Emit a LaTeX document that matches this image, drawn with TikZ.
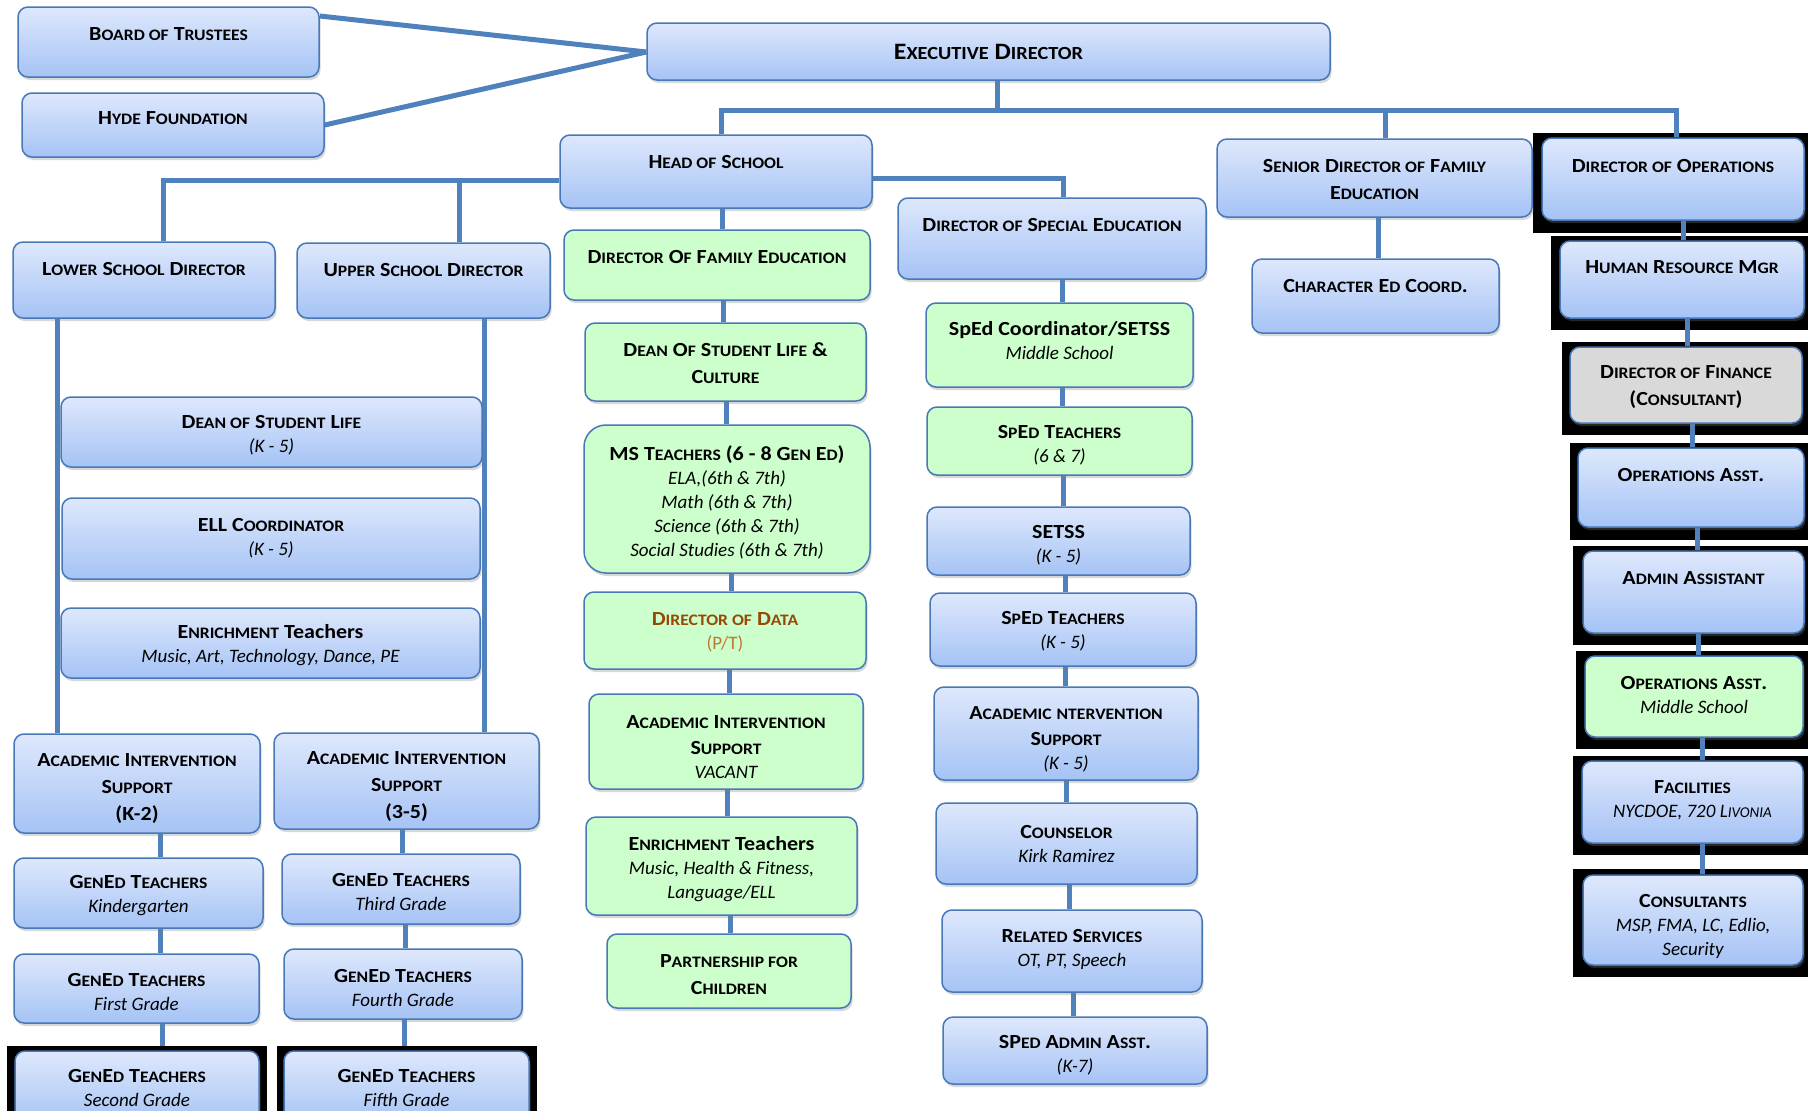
\documentclass[tikz,border=0pt]{standalone}
\usepackage{fontspec}
\setmainfont{Carlito}[BoldFeatures={FakeStretch=1.1}]
\usetikzlibrary{fit,shadows}
\definecolor{conn}{RGB}{79,129,189}
\definecolor{bord}{RGB}{72,120,184}
\definecolor{blueTop}{RGB}{222,232,252}
\definecolor{blueBot}{RGB}{165,195,245}
\definecolor{gfill}{RGB}{204,255,204}
\definecolor{grfill}{RGB}{217,217,217}
\definecolor{ddata}{RGB}{152,72,6}
\definecolor{ddatab}{RGB}{190,120,50}
\pgfdeclarelayer{blk}
\pgfdeclarelayer{lines}
\pgfsetlayers{blk,lines,main}
\newcommand\scx[1]{{\fontsize{16}{18}\selectfont #1}}
\newcommand\scy[1]{{\fontsize{18.5}{20}\selectfont #1}}
\newcommand\subt[1]{{\fontsize{19}{24}\selectfont\mdseries\itshape #1}}
\tikzset{
  bbase/.style={draw=bord, line width=1.5pt, rounded corners=10pt, inner sep=0pt,
    drop shadow={shadow xshift=1.5pt, shadow yshift=-3pt, opacity=0.3}},
  box/.style={bbase, top color=blueTop, bottom color=blueBot},
  gbox/.style={bbase, fill=gfill},
  grbox/.style={bbase, fill=grfill},
  blkbg/.style={fill=black, draw=none, inner sep=0pt},
  t/.style={align=center, inner sep=0pt, font=\fontsize{20}{24}\selectfont\bfseries, text=black},
  cn/.style={draw=conn, line width=5pt},
}
\begin{document}
\begin{tikzpicture}[x=1pt,y=-1pt]
\useasboundingbox (0,0) rectangle (1808,1111);
\begin{pgfonlayer}{blk}
\fill[white] (0,0) rectangle (1808,1111);
\node[blkbg, fit={(1533,133) (1808,233)}] (bgOps) {};
\node[blkbg, fit={(1551,236) (1808,330)}] (bgHRM) {};
\node[blkbg, fit={(1562,342) (1808,435)}] (bgFin) {};
\node[blkbg, fit={(1570,443) (1808,540)}] (bgOpsA) {};
\node[blkbg, fit={(1573,546) (1808,645)}] (bgAdm) {};
\node[blkbg, fit={(1576,651) (1808,749)}] (bgOMS) {};
\node[blkbg, fit={(1573,756) (1808,855)}] (bgFac) {};
\node[blkbg, fit={(1573,869) (1808,977)}] (bgCons) {};
\node[blkbg, fit={(7,1046) (267,1115)}] (bgG2) {};
\node[blkbg, fit={(277,1046) (537,1115)}] (bgG5) {};
\end{pgfonlayer}

% top
\node[box, fit={(18,7) (319,77)}] (BoT) {};
\node[t] (tBoT) at (168.5,34) {B\scx{OARD OF} T\scx{RUSTEES}};
\node[box, fit={(22,93) (324,157)}] (Hyde) {};
\node[t] (tHyde) at (173,118) {H\scx{YDE} F\scx{OUNDATION}};
\node[box, fit={(647,23) (1330,80)}] (Exec) {};
\node[t, font=\fontsize{23.5}{26}\selectfont\bfseries] (tExec) at (988.5,52) {E\scy{XECUTIVE} D\scy{IRECTOR}};
\node[box, fit={(560,135) (872,208)}] (HoS) {};
\node[t] (tHoS) at (716,162) {H\scx{EAD OF} S\scx{CHOOL}};
\node[box, fit={(898,198) (1206,279)}] (DSE) {};
\node[t] (tDSE) at (1052,225) {D\scx{IRECTOR OF} S\scx{PECIAL} E\scx{DUCATION}};
\node[box, fit={(1217,139) (1532,217)}] (SenDir) {};
\node[t] (tSenDir) at (1374.5,179.5) {S\scx{ENIOR} D\scx{IRECTOR OF} F\scx{AMILY}\\[3pt] E\scx{DUCATION}};
\node[box, fit={(1252,259) (1499,333)}] (CharEd) {};
\node[t] (tCharEd) at (1375.5,286) {C\scx{HARACTER} E\scx{D} C\scx{OORD}.};

% operations column
\node[box, fit={(1542,138) (1804,220)}] (DOps) {};
\node[t] (tDOps) at (1673,166) {D\scx{IRECTOR OF} O\scx{PERATIONS}};
\node[box, fit={(1560,241) (1804,318)}] (HRM) {};
\node[t] (tHRM) at (1682,267) {H\scx{UMAN} R\scx{ESOURCE} M\scx{GR}};
\node[grbox, fit={(1570,347) (1802,423)}] (DFin) {};
\node[t] (tDFin) at (1686,387.5) {D\scx{IRECTOR OF} F\scx{INANCE}\\[3pt] (C\scx{ONSULTANT})};
\node[box, fit={(1578,448) (1804,527)}] (OpsA) {};
\node[t] (tOpsA) at (1691,475) {O\scx{PERATIONS} A\scx{SST}.};
\node[box, fit={(1583,551) (1804,633)}] (Admin) {};
\node[t] (tAdmin) at (1693.5,578) {A\scx{DMIN} A\scx{SSISTANT}};
\node[gbox, fit={(1585,656) (1803,737)}] (OpsMS) {};
\node[t] (tOpsMS) at (1694,695) {O\scx{PERATIONS} A\scx{SST}.\\ \subt{Middle School}};
\node[box, fit={(1582,761) (1803,843)}] (Fac) {};
\node[t] (tFac) at (1692.5,800.5) {F\scx{ACILITIES}\\ \subt{NYCDOE, 720 L{\fontsize{15}{18}\selectfont IVONIA}}};
\node[box, fit={(1583,875) (1803,965)}] (Cons) {};
\node[t] (tCons) at (1693,926.5) {C\scx{ONSULTANTS}\\ \subt{MSP, FMA, LC, Edlio,}\\ \subt{Security}};

% lower / upper school
\node[box, fit={(13,242) (275,318)}] (LSD) {};
\node[t] (tLSD) at (144,269) {L\scx{OWER} S\scx{CHOOL} D\scx{IRECTOR}};
\node[box, fit={(297,243) (550,318)}] (USD) {};
\node[t] (tUSD) at (423.5,270) {U\scx{PPER} S\scx{CHOOL} D\scx{IRECTOR}};
\node[box, fit={(61,397) (482,467)}] (DSL) {};
\node[t] (tDSL) at (271.5,435.5) {D\scx{EAN OF} S\scx{TUDENT} L\scx{IFE}\\ \subt{(K - 5)}};
\node[box, fit={(62,498) (480,579)}] (ELL) {};
\node[t] (tELL) at (271,538) {ELL C\scx{OORDINATOR}\\ \subt{(K - 5)}};
\node[box, fit={(61,608) (480,678)}] (EnrL) {};
\node[t] (tEnrL) at (270.5,645.5) {E\scx{NRICHMENT} Teachers\\ \subt{Music, Art, Technology, Dance, PE}};
\node[box, fit={(14,734) (260,833)}] (AISK2) {};
\node[t] (tAISK2) at (137,788.5) {A\scx{CADEMIC} I\scx{NTERVENTION}\\[3pt] S\scx{UPPORT}\\[3pt] (K-2)};
\node[box, fit={(274,733) (539,829)}] (AIS35) {};
\node[t] (tAIS35) at (406.5,787) {A\scx{CADEMIC} I\scx{NTERVENTION}\\[3pt] S\scx{UPPORT}\\[3pt] (3-5)};
\node[box, fit={(14,858) (263,928)}] (GK) {};
\node[t] (tGK) at (138.5,896) {G\scx{EN}E\scx{D} T\scx{EACHERS}\\ \subt{Kindergarten}};
\node[box, fit={(282,854) (520,924)}] (G3) {};
\node[t] (tG3) at (401,892) {G\scx{EN}E\scx{D} T\scx{EACHERS}\\ \subt{Third Grade}};
\node[box, fit={(14,954) (259,1023)}] (G1) {};
\node[t] (tG1) at (136.5,992) {G\scx{EN}E\scx{D} T\scx{EACHERS}\\ \subt{First Grade}};
\node[box, fit={(284,949) (522,1019)}] (G4) {};
\node[t] (tG4) at (403,988) {G\scx{EN}E\scx{D} T\scx{EACHERS}\\ \subt{Fourth Grade}};
\node[box, fit={(15,1051) (259,1125)}] (G2) {};
\node[t] (tG2) at (137,1088) {G\scx{EN}E\scx{D} T\scx{EACHERS}\\ \subt{Second Grade}};
\node[box, fit={(284,1051) (529,1125)}] (G5) {};
\node[t] (tG5) at (406.5,1088) {G\scx{EN}E\scx{D} T\scx{EACHERS}\\ \subt{Fifth Grade}};

% middle (green) column
\node[gbox, fit={(564,230) (870,300)}] (DFE) {};
\node[t] (tDFE) at (717,257) {D\scx{IRECTOR} O\scx{F} F\scx{AMILY} E\scx{DUCATION}};
\node[gbox, fit={(585,323) (866,401)}] (DSLC) {};
\node[t] (tDSLC) at (725.5,363.5) {D\scx{EAN} O\scx{F} S\scx{TUDENT} L\scx{IFE} \&\\[3pt] C\scx{ULTURE}};
\node[gbox, rounded corners=22pt, fit={(584,425) (870,573)}] (MS) {};
\node[t] (tMS) at (727,502.5) {MS T\scx{EACHERS} (6 - 8 G\scx{EN} E\scx{D})\\ \subt{ELA,(6th \& 7th)}\\ \subt{Math (6th \& 7th)}\\ \subt{Science (6th \& 7th)}\\ \subt{Social Studies (6th \& 7th)}};
\node[gbox, fit={(584,592) (866,669)}] (DData) {};
\node[t] (tDData) at (725,632) {\textcolor{ddata}{D\scx{IRECTOR OF} D\scx{ATA}}\\ {\fontsize{19}{24}\selectfont\mdseries\color{ddatab}(P/T)}};
\node[gbox, fit={(589,694) (863,789)}] (AISV) {};
\node[t] (tAISV) at (726,747) {A\scx{CADEMIC} I\scx{NTERVENTION}\\[2pt] S\scx{UPPORT}\\ \subt{VACANT}};
\node[gbox, fit={(586,817) (857,915)}] (EnrM) {};
\node[t] (tEnrM) at (721.5,869) {E\scx{NRICHMENT} Teachers\\ \subt{Music, Health \& Fitness,}\\ \subt{Language/ELL}};
\node[gbox, fit={(607,934) (851,1008)}] (PfC) {};
\node[t] (tPfC) at (729,975) {P\scx{ARTNERSHIP FOR}\\[3pt] C\scx{HILDREN}};

% special education column
\node[gbox, fit={(926,303) (1193,387)}] (SpCo) {};
\node[t] (tSpCo) at (1059.5,340.5) {SpEd Coordinator/SETSS\\ \subt{Middle School}};
\node[gbox, fit={(927,407) (1192,475)}] (Sp67) {};
\node[t] (tSp67) at (1059.5,445.5) {S\scx{P}E\scx{D} T\scx{EACHERS}\\ \subt{(6 \& 7)}};
\node[box, fit={(927,507) (1190,575)}] (SETSS) {};
\node[t] (tSETSS) at (1058.5,545.5) {SETSS\\ \subt{(K - 5)}};
\node[box, fit={(930,593) (1196,666)}] (SpK5) {};
\node[t] (tSpK5) at (1063,631) {S\scx{P}E\scx{D} T\scx{EACHERS}\\ \subt{(K - 5)}};
\node[box, fit={(934,687) (1198,780)}] (AISK5) {};
\node[t] (tAISK5) at (1066,739) {A\scx{CADEMIC} \scx{NTERVENTION}\\[2pt] S\scx{UPPORT}\\ \subt{(K - 5)}};
\node[box, fit={(936,803) (1197,884)}] (Couns) {};
\node[t] (tCouns) at (1066.5,843.5) {C\scx{OUNSELOR}\\ \subt{Kirk Ramirez}};
\node[box, fit={(942,910) (1202,992)}] (RelS) {};
\node[t] (tRelS) at (1072,949.5) {R\scx{ELATED} S\scx{ERVICES}\\ \subt{OT, PT, Speech}};
\node[box, fit={(943,1017) (1207,1084)}] (SPAdm) {};
\node[t] (tSPAdm) at (1075,1055) {SP\scx{ED} A\scx{DMIN} A\scx{SST}.\\ \subt{(K-7)}};

% connectors
\begin{pgfonlayer}{lines}
\draw[cn] (BoT.east |- 0,16) -- (Exec.west |- 0,52);
\draw[cn] (Hyde.east |- 0,125) -- (Exec.west |- 0,52);
\coordinate (jE) at (997,110);
\draw[cn] (Exec.south -| jE) -- (jE);
\draw[cn] (HoS.north -| 721,0) -- (721,110) -- (1676,110) -- (DOps.north -| 1676,0);
\draw[cn] (1385,110) -- (SenDir.north -| 1385,0);
\draw[cn] (HoS.west |- 0,180) -- (163,180) -- (LSD.north -| 163,0);
\draw[cn] (459,180) -- (USD.north -| 459,0);
\draw[cn] (HoS.east |- 0,178) -- (1063,178) -- (DSE.north -| 1063,0);
\draw[cn] (HoS.south -| 722,0) -- (DFE.north -| 722,0);
\draw[cn] (DFE.south -| 723,0) -- (DSLC.north -| 723,0);
\draw[cn] (DSLC.south -| 726,0) -- (MS.north -| 726,0);
\draw[cn] (MS.south -| 731,0) -- (DData.north -| 731,0);
\draw[cn] (DData.south -| 729,0) -- (AISV.north -| 729,0);
\draw[cn] (AISV.south -| 727,0) -- (EnrM.north -| 727,0);
\draw[cn] (EnrM.south -| 730,0) -- (PfC.north -| 730,0);
\draw[cn] (DSE.south -| 1062,0) -- (SpCo.north -| 1062,0);
\draw[cn] (SpCo.south -| 1062,0) -- (Sp67.north -| 1062,0);
\draw[cn] (Sp67.south -| 1063,0) -- (SETSS.north -| 1063,0);
\draw[cn] (SETSS.south -| 1065,0) -- (SpK5.north -| 1065,0);
\draw[cn] (SpK5.south -| 1065,0) -- (AISK5.north -| 1065,0);
\draw[cn] (AISK5.south -| 1066,0) -- (Couns.north -| 1066,0);
\draw[cn] (Couns.south -| 1069,0) -- (RelS.north -| 1069,0);
\draw[cn] (RelS.south -| 1073,0) -- (SPAdm.north -| 1073,0);
\draw[cn] (SenDir.south -| 1378,0) -- (CharEd.north -| 1378,0);
\draw[cn] (DOps.south -| 1683,0) -- (HRM.north -| 1683,0);
\draw[cn] (HRM.south -| 1687,0) -- (DFin.north -| 1687,0);
\draw[cn] (DFin.south -| 1692,0) -- (OpsA.north -| 1692,0);
\draw[cn] (OpsA.south -| 1697,0) -- (Admin.north -| 1697,0);
\draw[cn] (Admin.south -| 1698,0) -- (OpsMS.north -| 1698,0);
\draw[cn] (OpsMS.south -| 1702,0) -- (Fac.north -| 1702,0);
\draw[cn] (Fac.south -| 1702,0) -- (Cons.north -| 1702,0);
\draw[cn] (LSD.south -| 57,0) -- (AISK2.north -| 57,0);
\draw[cn] (USD.south -| 484,0) -- (AIS35.north -| 484,0);
\draw[cn] (AISK2.south -| 160,0) -- (GK.north -| 160,0);
\draw[cn] (GK.south -| 160,0) -- (G1.north -| 160,0);
\draw[cn] (G1.south -| 162,0) -- (bgG2.north -| 162,0);
\draw[cn] (AIS35.south -| 402,0) -- (G3.north -| 402,0);
\draw[cn] (G3.south -| 405,0) -- (G4.north -| 405,0);
\draw[cn] (G4.south -| 404,0) -- (bgG5.north -| 404,0);
\end{pgfonlayer}
\end{tikzpicture}
\end{document}
